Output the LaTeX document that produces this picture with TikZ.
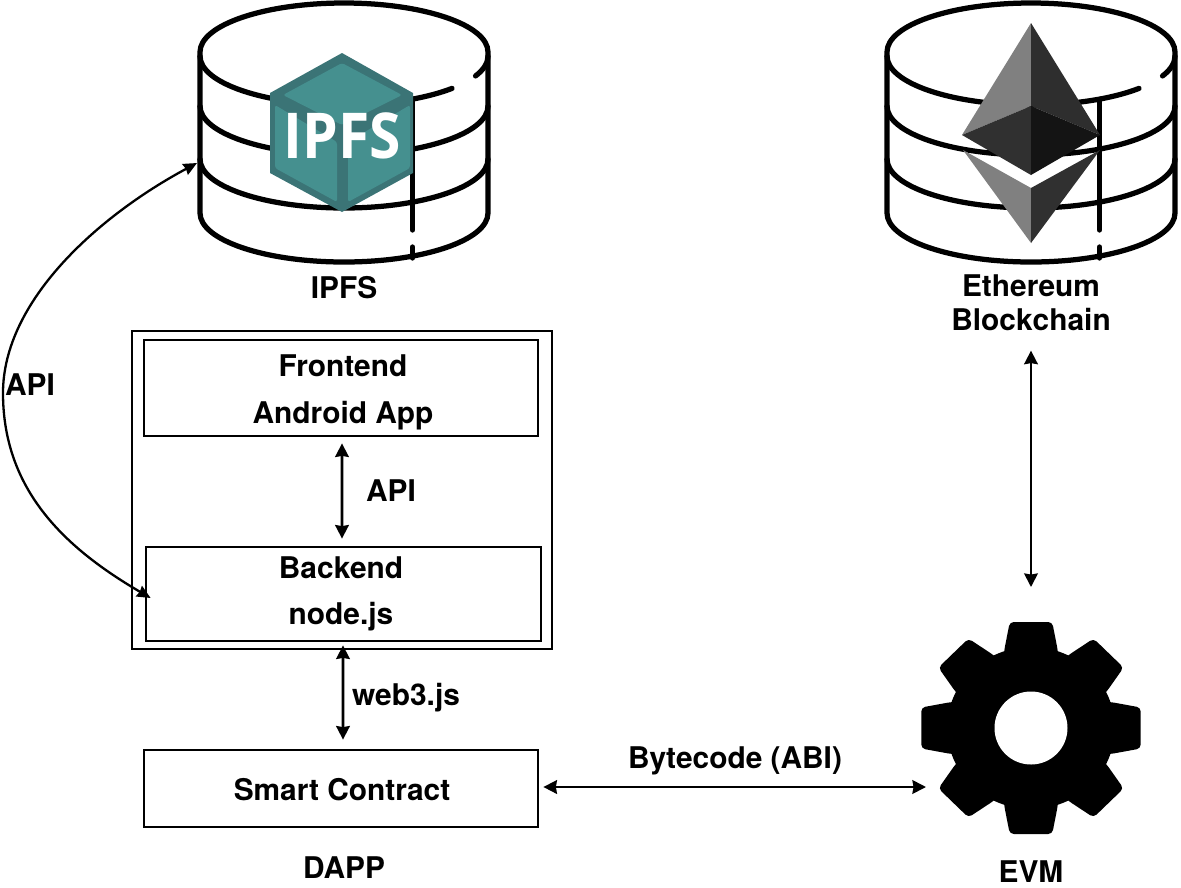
\documentclass[tikz,border=0pt]{standalone}
\usepackage{fontspec}
\setmainfont{TeX Gyre Heros}
\newfontfamily\logofont{Open Sans}
\usetikzlibrary{arrows.meta}
\definecolor{tealface}{HTML}{45908F}
\definecolor{tealdark}{HTML}{3B7476}
\tikzset{
  px/.style={x=0.02cm,y=-0.02cm},
  boxnode/.style={draw=black,line width=0.056cm,inner sep=0,fill=none},
  holder/.style={inner sep=0,outer sep=0},
  lbl/.style={anchor=base,inner sep=0,font=\fontsize{17}{20}\selectfont\bfseries},
  biarrow/.style={line width=0.056cm,{Stealth[length=0.27cm,width=0.27cm,inset=0.02cm]}-{Stealth[length=0.27cm,width=0.27cm,inset=0.02cm]}},
  dbline/.style={line width=0.105cm,line cap=round,line join=round},
}
\newcommand{\dbcyl}[1]{%
  \draw[dbline] ({#1-144},213) -- ({#1-144},52) arc[start angle=180,end angle=360,x radius=144,y radius=49] -- ({#1+144},213) arc[start angle=0,end angle=180,x radius=144,y radius=49];
  \draw[dbline] ({#1-144},56) arc[start angle=180,end angle=41.4,x radius=144,y radius=49];
  \draw[dbline] ({#1+144*cos(24)},{56+49*sin(24)}) arc[start angle=24,end angle=0,x radius=144,y radius=49];
  \draw[dbline] ({#1-144},106) arc[start angle=180,end angle=0,x radius=144,y radius=49];
  \draw[dbline] ({#1-144},159) arc[start angle=180,end angle=0,x radius=144,y radius=49];
  \draw[dbline] ({#1+68.5},100) -- ({#1+68.5},230);
  \draw[dbline] ({#1+68.5},247) -- ({#1+68.5},258);
}
\begin{document}
\begin{tikzpicture}[px]
\useasboundingbox (0,0) rectangle (1181,887);

% IPFS database
\dbcyl{344}
\node[holder,minimum width=5.76cm,minimum height=5.18cm] (ipfsdb) at (344,132.5) {};
\fill[tealdark] (342,53) -- (413,93) -- (413,173) -- (342,212) -- (270,173) -- (270,93) -- cycle;
\fill[tealface,rounded corners=0.05cm] (342,63) -- (402,95) -- (342,125) -- (283,95) -- cycle;
\fill[tealface,rounded corners=0.05cm] (275,105) -- (337,142) -- (337,202) -- (275,168) -- cycle;
\fill[tealface,rounded corners=0.05cm] (348,142) -- (410,105) -- (410,168) -- (348,202) -- cycle;
\node[holder,text=white,xscale=0.9] (ipfslogo) at (342.5,136) {\logofont\bfseries\fontsize{36}{36}\selectfont IPFS};

% Ethereum database
\dbcyl{1031}
\node[holder,minimum width=5.76cm,minimum height=5.18cm] (ethdb) at (1031,132.5) {};
\fill[black!50] (1031,23) -- (1031,106) -- (962,135) -- cycle;
\fill[black!82] (1031,23) -- (1031,106) -- (1100,135) -- cycle;
\fill[black!81] (1031,106) -- (1031,175) -- (962,135) -- cycle;
\fill[black!92] (1031,106) -- (1031,175) -- (1100,135) -- cycle;
\fill[black!50] (963,150) -- (1031,188) -- (1031,243) -- cycle;
\fill[black!81] (1100,150) -- (1031,188) -- (1031,243) -- cycle;

% Gear
\node[holder,minimum width=4.4cm,minimum height=4.24cm] (gear) at (1031,728) {};
\begin{scope}[shift={(1031,728)},xscale=1.035]
  \fill[black] (0,0) circle [radius=81];
  \foreach \a in {0,45,...,315}
    \fill[black,rotate=\a,rounded corners=0.08cm] (-26,-70) -- (-26,-77) -- (-20.5,-106) -- (20.5,-106) -- (26,-77) -- (26,-70) -- cycle;
\end{scope}
\fill[white] (gear.center) circle [radius=36.5];

% Boxes
\node[boxnode,line width=0.05cm,minimum width=8.4cm,minimum height=6.36cm] (dapp) at (342,490) {};
\node[boxnode,minimum width=7.88cm,minimum height=1.92cm] (frontend) at (341,388) {};
\node[boxnode,minimum width=7.9cm,minimum height=1.88cm] (backend) at (343.5,594) {};
\node[boxnode,minimum width=7.88cm,minimum height=1.54cm] (smart) at (341,788.5) {};

% Labels
\node[lbl] (ipfslabel) at (344,298) {IPFS};
\node[lbl] (ethlabela) at (1031,296) {Ethereum};
\node[lbl] (ethlabelb) at (1031,330) {Blockchain};
\node[lbl] (frontlabel) at (343,376) {Frontend};
\node[lbl] (applabel) at (343,423) {Android App};
\node[lbl] (apiinner) at (391,501) {API};
\node[lbl] (backlabel) at (341,578) {Backend};
\node[lbl] (nodelabel) at (341,624) {node.js};
\node[lbl] (web3label) at (406,705) {web3.js};
\node[lbl] (smartlabel) at (342,800) {Smart Contract};
\node[lbl] (dapplabel) at (344,878) {DAPP};
\node[lbl] (abilabel) at (735,768) {Bytecode (ABI)};
\node[lbl] (evmlabel) at (1031,882) {EVM};
\node[lbl] (apiouter) at (30,395) {API};

% Connectors
\draw[biarrow,shorten <=0.12cm,shorten >=0.14cm] ([xshift=0.02cm]frontend.south) -- ([xshift=-0.03cm]backend.north);
\draw[biarrow,shorten <=0.06cm,shorten >=0.18cm] ([xshift=-0.01cm]backend.south) -- ([xshift=0.04cm]smart.north);
\draw[biarrow,shorten <=0.08cm,shorten >=-0.1cm] ([yshift=0.03cm]smart.east) -- ([yshift=0.03cm]smart.east -| gear.west);
\draw[biarrow,shorten <=0.4cm,shorten >=0.7cm] (ethlabelb.south) -- (gear.north);
\draw[line width=0.046cm,{Stealth[length=0.27cm,width=0.24cm,inset=0.02cm]}-{Stealth[length=0.27cm,width=0.24cm,inset=0.02cm]}]
  ([shift={(6,4)}]backend.west) .. controls (65,548) and (3,490) .. (3,393)
  .. controls (3,300) and (100,215) .. ([shift={(-3,30.5)}]ipfsdb.west);
\end{tikzpicture}
\end{document}
